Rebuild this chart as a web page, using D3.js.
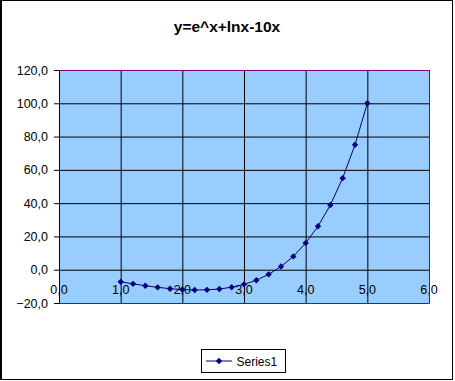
<!DOCTYPE html>
<html>
<head>
<meta charset="utf-8">
<script src="https://cdn.jsdelivr.net/npm/d3@7"></script>
<style>
  body { margin: 0; background: #fff; }
  svg { display: block; }
</style>
</head>
<body>
<svg id="chart" width="455" height="381"></svg>
<script>
// data
var xVals = [1.0, 1.2, 1.4, 1.6, 1.8, 2.0, 2.2, 2.4, 2.6, 2.8, 3.0, 3.2, 3.4, 3.6, 3.8, 4.0, 4.2, 4.4, 4.6, 4.8, 5.0];
var yVals = [-7.3, -8.5, -9.6, -10.6, -11.4, -11.9, -12.2, -12.1, -11.6, -10.5, -8.8, -6.3, -2.8, 1.9, 8.0, 16.0, 26.1, 38.9, 55.0, 75.1, 100.0];
var xTicks = [0, 1, 2, 3, 4, 5, 6];
var yTicks = [-20, 0, 20, 40, 60, 80, 100, 120];
var chartTitle = "y=e^x+lnx-10x";
var seriesName = "Series1";

var svg = d3.select("#chart");
var font = "'Liberation Sans', Arial, sans-serif";
var fmt = d3.formatLocale({decimal: ",", thousands: ".", grouping: [3], currency: ["", ""]}).format(".1f");

var plotL = 59, plotR = 429, plotT = 70, plotB = 303;
var x = d3.scaleLinear().domain([0, 6]).range([plotL, plotR]);
var y = d3.scaleLinear().domain([-20, 120]).range([plotB, plotT]);

// outer frame
svg.append("rect").attr("x", 0.5).attr("y", 0.5).attr("width", 452).attr("height", 379)
   .style("fill", "#fff").style("stroke", "#000").style("stroke-width", 1);
svg.append("line").attr("x1", 1.5).attr("x2", 1.5).attr("y1", 0).attr("y2", 380).style("stroke", "#000");

// title
svg.append("text").attr("x", 227).attr("y", 32).attr("text-anchor", "middle")
   .text(chartTitle).style("font-family", font).style("font-weight", "bold").style("font-size", "15.5px");

// plot area
svg.append("rect").attr("x", plotL).attr("y", plotT).attr("width", plotR - plotL).attr("height", plotB - plotT)
   .style("fill", "#99CCFF").style("stroke", "none");

// x labels sit on the 0 line, under the gridlines
svg.append("g").selectAll("text").data(xTicks).enter().append("text")
   .attr("x", function(d){ return x(d); }).attr("y", 293.5).attr("text-anchor", "middle")
   .text(function(d){ return fmt(d); })
   .style("font-family", font).style("font-size", "12.5px").style("fill", "#000");

// y axis with gridlines
var yAxis = d3.axisLeft(y).tickValues(yTicks).tickSize(-(plotR - plotL)).tickPadding(11).tickFormat(fmt);
var gy = svg.append("g").attr("transform", "translate(" + plotL + ",0)").call(yAxis);
gy.select(".domain").remove();
gy.selectAll(".tick line").attr("x1", -5).style("stroke", "#000");
gy.selectAll(".tick text").style("font-family", font).style("font-size", "12.5px").style("fill", "#000");

// vertical gridlines
var xAxis = d3.axisBottom(x).tickValues(xTicks).tickSize(-(plotB - plotT)).tickFormat("");
var gx = svg.append("g").attr("transform", "translate(0," + plotB + ")").call(xAxis);
gx.select(".domain").remove();
gx.selectAll(".tick line").style("stroke", "#000");

// plot border: purple top/right/bottom, black axis on left
svg.append("path")
   .attr("d", "M" + plotL + "," + (plotT + 0.5) + "H" + (plotR + 0.5) + "V" + (plotB + 0.5) + "H" + plotL)
   .style("fill", "none").style("stroke", "#800080");
svg.append("line").attr("x1", plotL + 0.5).attr("x2", plotL + 0.5).attr("y1", plotT).attr("y2", plotB + 1)
   .style("stroke", "#000");

// series
var pts = xVals.map(function(d, i){ return [d, yVals[i]]; });
var line = d3.line().x(function(d){ return x(d[0]); }).y(function(d){ return y(d[1]); });
svg.append("path").datum(pts).attr("d", line)
   .style("fill", "none").style("stroke", "#000080").style("stroke-width", 1);
var diamond = d3.symbol().type(d3.symbolDiamond2).size(26);
svg.append("g").selectAll("path").data(pts).enter().append("path")
   .attr("d", diamond)
   .attr("transform", function(d){ return "translate(" + x(d[0]) + "," + y(d[1]) + ")"; })
   .style("fill", "#000080");

// legend
var lg = svg.append("g");
lg.append("rect").attr("x", 201.5).attr("y", 349.5).attr("width", 84).attr("height", 23)
  .style("fill", "#fff").style("stroke", "#000");
lg.append("line").attr("x1", 206).attr("x2", 232).attr("y1", 361).attr("y2", 361)
  .style("stroke", "#000080");
lg.append("path").attr("d", diamond).attr("transform", "translate(219,361)").style("fill", "#000080");
lg.append("text").attr("x", 236.5).attr("y", 365.5).text(seriesName)
  .style("font-family", font).style("font-size", "12px");
</script>
</body>
</html>
